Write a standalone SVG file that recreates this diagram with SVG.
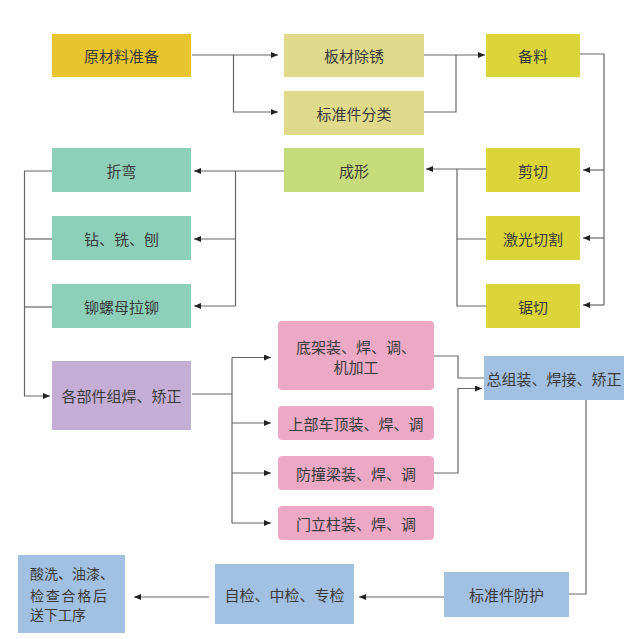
<svg xmlns="http://www.w3.org/2000/svg" width="640" height="639" viewBox="0 0 640 639">
<defs>
<marker id="ah" markerUnits="userSpaceOnUse" markerWidth="7" markerHeight="6" refX="7" refY="3" orient="auto">
<path d="M0,0 L7,3 L0,6 z" fill="#222"/>
</marker>
<style>
.t{font-family:"Noto Sans CJK SC","Noto Sans",sans-serif;font-size:15px;fill:#3a3a3a;text-anchor:middle;dominant-baseline:central}
.s{font-size:14px;text-anchor:start}
.c{fill:none;stroke:#666;stroke-width:1.2}
.a{marker-end:url(#ah)}
.gold{fill:#E8C52F}
.khaki{fill:#E0DB8B}
.yel{fill:#DCD53A}
.lg{fill:#C6DC7B}
.teal{fill:#8DCFB8}
.pur{fill:#C5AED6}
.pink{fill:#EBA9C5}
.blue{fill:#A2C0E1}
</style>
</defs>
<rect width="640" height="639" fill="#ffffff"/>
<g id="connectors">
<path class="c a" d="M192,55 H278"/>
<path class="c a" d="M233.5,55 V112 H278"/>
<path class="c a" d="M424,55 H485"/>
<path class="c" d="M424,112 H456 V55"/>
<path class="c" d="M580,54 H604 V305"/>
<path class="c a" d="M604,170 H583"/>
<path class="c a" d="M604,238 H583"/>
<path class="c a" d="M604,305 H583"/>
<path class="c a" d="M486,169 H426"/>
<path class="c" d="M486,239 H457 V169"/>
<path class="c" d="M486,306 H457 V239"/>
<path class="c a" d="M284,171 H194"/>
<path class="c" d="M235.5,171 V306"/>
<path class="c a" d="M235.5,239 H194"/>
<path class="c a" d="M235.5,306 H194"/>
<path class="c a" d="M52,171 H24.5 V396 H50"/>
<path class="c" d="M52,239 H24.5"/>
<path class="c" d="M52,307 H24.5"/>
<path class="c" d="M192,394 H232"/>
<path class="c" d="M232,357.5 V523"/>
<path class="c a" d="M232,357.5 H271"/>
<path class="c a" d="M232,423 H271"/>
<path class="c a" d="M232,473 H271"/>
<path class="c a" d="M232,523 H271"/>
<path class="c" d="M433.5,356 H458 V378 H484"/>
<path class="c a" d="M433.5,473 H458 V388.5 H482"/>
<path class="c" d="M586,400 V594 H569"/>
<path class="c a" d="M444,597 H359"/>
<path class="c a" d="M209,597 H134"/>
</g>
<g id="n1"><rect class="gold" x="52" y="34" width="139" height="43"/><text class="t" x="121.5" y="55.5">原材料准备</text></g>
<g id="n2"><rect class="khaki" x="284" y="34" width="140" height="43"/><text class="t" x="354" y="55.5">板材除锈</text></g>
<g id="n3"><rect class="khaki" x="284" y="91" width="140" height="44"/><text class="t" x="354" y="113">标准件分类</text></g>
<g id="n4"><rect class="yel" x="486" y="34" width="94" height="43"/><text class="t" x="533" y="55.5">备料</text></g>
<g id="n5"><rect class="teal" x="52" y="148" width="139" height="44"/><text class="t" x="121.5" y="170">折弯</text></g>
<g id="n6"><rect class="lg" x="284" y="148" width="140" height="44"/><text class="t" x="354" y="170">成形</text></g>
<g id="n7"><rect class="yel" x="486" y="148" width="94" height="44"/><text class="t" x="533" y="170">剪切</text></g>
<g id="n8"><rect class="teal" x="52" y="216" width="139" height="44"/><text class="t" x="121.5" y="238">钻、铣、刨</text></g>
<g id="n9"><rect class="yel" x="486" y="216" width="94" height="44"/><text class="t" x="533" y="238">激光切割</text></g>
<g id="n10"><rect class="teal" x="52" y="284" width="139" height="44"/><text class="t" x="121.5" y="306">铆螺母拉铆</text></g>
<g id="n11"><rect class="yel" x="486" y="284" width="94" height="44"/><text class="t" x="533" y="306">锯切</text></g>
<g id="n12"><rect class="pur" x="52" y="361" width="139" height="69"/><text class="t" x="121.5" y="395.5">各部件组焊、矫正</text></g>
<g id="n13"><rect class="pink" x="278" y="321" width="156" height="69" rx="4"/><text class="t" x="356" y="346.5">底架装、焊、调、</text><text class="t" x="356" y="366.5">机加工</text></g>
<g id="n14"><rect class="pink" x="278" y="406" width="156" height="34" rx="4"/><text class="t" x="356" y="423">上部车顶装、焊、调</text></g>
<g id="n15"><rect class="pink" x="278" y="456" width="156" height="34" rx="4"/><text class="t" x="356" y="473">防撞梁装、焊、调</text></g>
<g id="n16"><rect class="pink" x="278" y="506" width="156" height="34" rx="4"/><text class="t" x="356" y="523">门立柱装、焊、调</text></g>
<g id="n17"><rect class="blue" x="484" y="356" width="140" height="44"/><text class="t" x="554" y="378.5">总组装、焊接、矫正</text></g>
<g id="n18"><rect class="blue" x="444" y="572" width="125" height="45"/><text class="t" x="506.5" y="594.5">标准件防护</text></g>
<g id="n19"><rect class="blue" x="215" y="564" width="139" height="60"/><text class="t" x="284.5" y="594">自检、中检、专检</text></g>
<g id="n20"><rect class="blue" x="18" y="555" width="107" height="78"/>
<text class="t s" x="30" y="573">酸洗、油漆、</text>
<text class="t s" x="30" y="594.5" textLength="77" lengthAdjust="spacing">检查合格后</text>
<text class="t s" x="30" y="614">送下工序</text></g>
</svg>
